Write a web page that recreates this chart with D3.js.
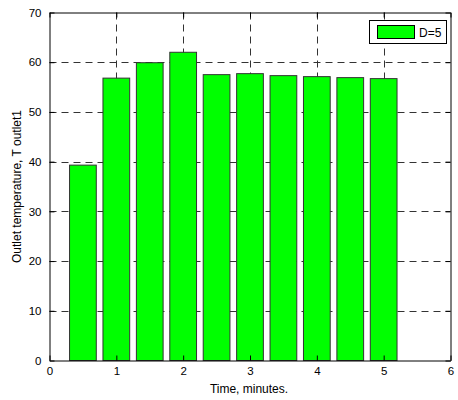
<!DOCTYPE html>
<html>
<head>
<meta charset="utf-8">
<script src="https://cdn.jsdelivr.net/npm/d3@7/dist/d3.min.js"></script>
<style>
  html, body { margin: 0; padding: 0; background: #fff; }
  svg { display: block; }
  text { font-family: "Liberation Sans", Arial, Helvetica, sans-serif; fill: #000; }
</style>
</head>
<body>
<svg id="chart" width="458" height="400"></svg>
<script>
// Outlet temperature sampled every half minute
const times = [0.5, 1.0, 1.5, 2.0, 2.5, 3.0, 3.5, 4.0, 4.5, 5.0];
const temps = [39.3, 56.8, 59.9, 62.0, 57.5, 57.7, 57.3, 57.1, 56.9, 56.7];
const xTicks = [0, 1, 2, 3, 4, 5, 6];
const yTicks = [0, 10, 20, 30, 40, 50, 60, 70];
const seriesName = "D=5";

const svg = d3.select("#chart");
const plotL = 49.5, plotR = 450.5, plotT = 12.5, plotB = 360.5;

const x = d3.scaleLinear().domain([0, 6]).range([plotL, plotR]);
const y = d3.scaleLinear().domain([0, 70]).range([plotB, plotT]);
const barW = x(0.4) - x(0); // bar width = 0.8 of the 0.5 spacing

// dashed grid
const grid = svg.append("g").attr("stroke", "#333").attr("stroke-width", 1)
  .attr("stroke-dasharray", "7,5");
grid.selectAll("line.v").data(xTicks.slice(1, -1)).join("line")
  .attr("x1", d => Math.round(x(d)) + 0.5).attr("x2", d => Math.round(x(d)) + 0.5)
  .attr("y1", plotT).attr("y2", plotB);
grid.selectAll("line.h").data(yTicks.slice(1, -1)).join("line")
  .attr("y1", d => Math.round(y(d)) + 0.5).attr("y2", d => Math.round(y(d)) + 0.5)
  .attr("x1", plotL).attr("x2", plotR);

// bars
svg.append("g").selectAll("rect").data(times).join("rect")
  .attr("x", (d) => x(d) - barW / 2)
  .attr("width", barW)
  .attr("y", (d, i) => y(temps[i]))
  .attr("height", (d, i) => y(0) - y(temps[i]))
  .attr("fill", "#00ff00")
  .attr("stroke", "#333")
  .attr("stroke-width", 1);

// axes with inward ticks on all four sides
const tickLen = 5;
const fmt = d3.format("d");
const ax = svg.append("g");
ax.append("g").attr("transform", `translate(0,${plotB})`)
  .call(d3.axisBottom(x).tickValues(xTicks).tickFormat(fmt).tickSizeInner(-tickLen).tickSizeOuter(0).tickPadding(6));
ax.append("g").attr("transform", `translate(0,${plotT})`)
  .call(d3.axisTop(x).tickValues(xTicks).tickSizeInner(-tickLen).tickSizeOuter(0).tickFormat(""));
ax.append("g").attr("transform", `translate(${plotL},0)`)
  .call(d3.axisLeft(y).tickValues(yTicks).tickFormat(fmt).tickSizeInner(-tickLen).tickSizeOuter(0).tickPadding(8));
ax.append("g").attr("transform", `translate(${plotR},0)`)
  .call(d3.axisRight(y).tickValues(yTicks).tickSizeInner(-tickLen).tickSizeOuter(0).tickFormat(""));
ax.selectAll(".domain").attr("stroke", "#000").attr("stroke-width", 1);
ax.selectAll(".tick line").attr("stroke", "#000");
ax.selectAll(".tick text").attr("font-size", 11.5)
  .attr("font-family", "'Liberation Sans', Arial, sans-serif").attr("fill", "#000");

// axis titles
svg.append("text").attr("x", (plotL + plotR) / 2 - 1).attr("y", 393)
  .attr("text-anchor", "middle").attr("font-size", 12).text("Time, minutes.");
svg.append("text").attr("transform", `translate(21,${(plotT + plotB) / 2}) rotate(-90)`)
  .attr("text-anchor", "middle").attr("font-size", 12).text("Outlet temperature, T outlet1");

// legend
const lg = svg.append("g");
lg.append("rect").attr("x", 369.5).attr("y", 20.5).attr("width", 77).attr("height", 23)
  .attr("fill", "#fff").attr("stroke", "#000").attr("stroke-width", 1);
lg.append("rect").attr("x", 377.5).attr("y", 25.5).attr("width", 37).attr("height", 13)
  .attr("fill", "#00ff00").attr("stroke", "#000").attr("stroke-width", 1);
lg.append("text").attr("x", 419).attr("y", 36.5).attr("font-size", 12).text(seriesName);
</script>
</body>
</html>
